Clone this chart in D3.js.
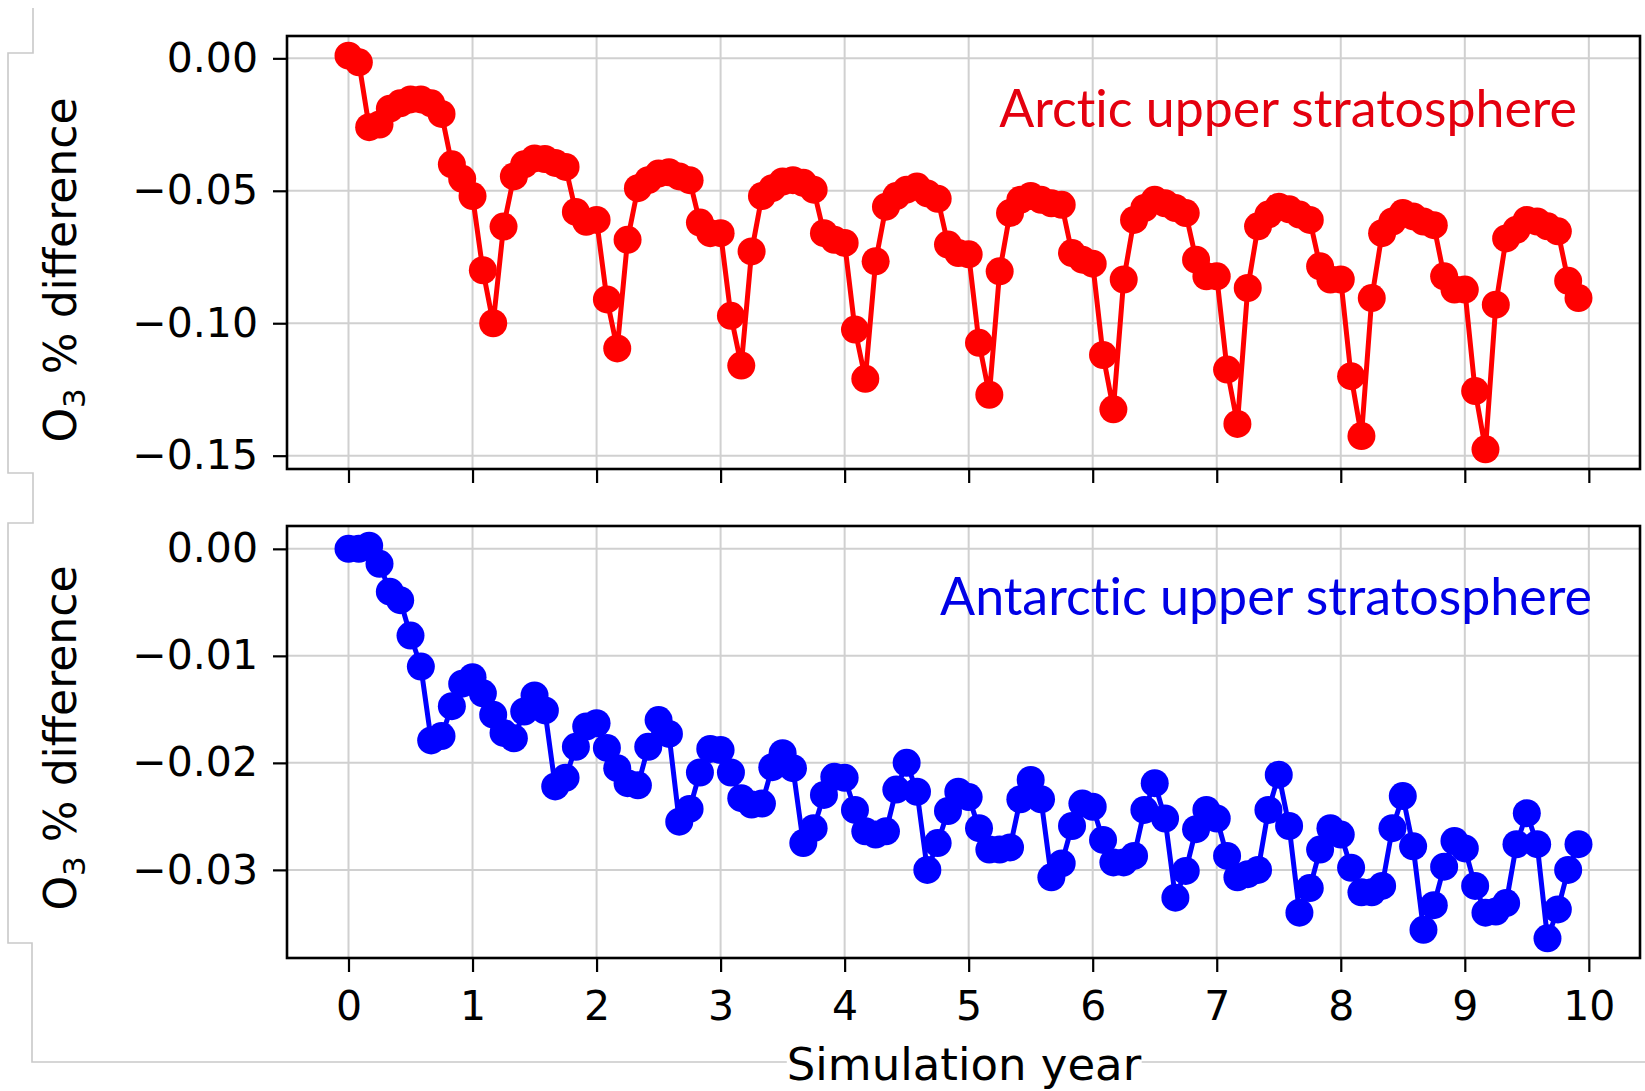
<!DOCTYPE html>
<html>
<head>
<meta charset="utf-8">
<script src="https://cdn.jsdelivr.net/npm/d3@7"></script>
<style>
  html, body { margin: 0; padding: 0; background: #ffffff; }
  svg { display: block; }
  .panel-label { font-variant-ligatures: none; font-feature-settings: "liga" 0, "clig" 0; }
</style>
</head>
<body>
<svg id="chart" width="1645" height="1091"></svg>
<script>
// ---------------- DATA ----------------
// monthly samples, simulation year = month index / 12
const simulationYear = d3.range(120).map(i => i / 12);

const arcticO3 = [
  0.0010, -0.0015, -0.0260, -0.0250, -0.0190, -0.0170, -0.0155, -0.0155, -0.0170, -0.0210, -0.0400, -0.0455,
  -0.0520, -0.0800, -0.1000, -0.0635, -0.0446, -0.0400, -0.0378, -0.0380, -0.0395, -0.0410, -0.0580, -0.0617,
  -0.0610, -0.0910, -0.1095, -0.0685, -0.0490, -0.0460, -0.0435, -0.0430, -0.0446, -0.0460, -0.0620, -0.0660,
  -0.0660, -0.0972, -0.1160, -0.0729, -0.0520, -0.0490, -0.0465, -0.0460, -0.0470, -0.0496, -0.0660, -0.0685,
  -0.0697, -0.1024, -0.1210, -0.0766, -0.0560, -0.0520, -0.0496, -0.0484, -0.0510, -0.0530, -0.0703, -0.0735,
  -0.0740, -0.1074, -0.1270, -0.0804, -0.0584, -0.0534, -0.0520, -0.0534, -0.0547, -0.0553, -0.0735, -0.0760,
  -0.0775, -0.1120, -0.1325, -0.0835, -0.0610, -0.0565, -0.0534, -0.0547, -0.0565, -0.0584, -0.0760, -0.0823,
  -0.0823, -0.1175, -0.1380, -0.0867, -0.0634, -0.0590, -0.0560, -0.0570, -0.0590, -0.0610, -0.0785, -0.0835,
  -0.0835, -0.1200, -0.1426, -0.0905, -0.0660, -0.0616, -0.0584, -0.0597, -0.0616, -0.0630, -0.0823, -0.0873,
  -0.0873, -0.1256, -0.1476, -0.0930, -0.0680, -0.0647, -0.0610, -0.0616, -0.0634, -0.0653, -0.0840, -0.0905
];

const antarcticO3 = [
  0.0000, 0.0000, 0.0003, -0.0014, -0.0040, -0.0048, -0.0081, -0.0110, -0.0179, -0.0175, -0.0147, -0.0126,
  -0.0120, -0.0135, -0.0155, -0.0172, -0.0177, -0.0152, -0.0137, -0.0151, -0.0222, -0.0214, -0.0185, -0.0166,
  -0.0163, -0.0186, -0.0205, -0.0219, -0.0221, -0.0185, -0.0160, -0.0173, -0.0255, -0.0243, -0.0209, -0.0187,
  -0.0188, -0.0209, -0.0233, -0.0239, -0.0238, -0.0204, -0.0191, -0.0205, -0.0275, -0.0261, -0.0230, -0.0213,
  -0.0214, -0.0244, -0.0264, -0.0267, -0.0264, -0.0225, -0.0200, -0.0227, -0.0300, -0.0275, -0.0245, -0.0227,
  -0.0232, -0.0261, -0.0281, -0.0281, -0.0279, -0.0234, -0.0216, -0.0234, -0.0307, -0.0294, -0.0259, -0.0238,
  -0.0241, -0.0272, -0.0293, -0.0293, -0.0287, -0.0244, -0.0219, -0.0252, -0.0326, -0.0301, -0.0262, -0.0244,
  -0.0252, -0.0287, -0.0307, -0.0304, -0.0300, -0.0244, -0.0211, -0.0259, -0.0340, -0.0317, -0.0281, -0.0261,
  -0.0267, -0.0298, -0.0321, -0.0321, -0.0315, -0.0261, -0.0231, -0.0278, -0.0356, -0.0333, -0.0297, -0.0273,
  -0.0280, -0.0315, -0.0340, -0.0339, -0.0331, -0.0276, -0.0247, -0.0276, -0.0364, -0.0337, -0.0300, -0.0276
];

const xTickValues = [0, 1, 2, 3, 4, 5, 6, 7, 8, 9, 10];
const arcticYTicks = [0.00, -0.05, -0.10, -0.15];
const antarcticYTicks = [0.00, -0.01, -0.02, -0.03];
const panelLabels = ["Arctic upper stratosphere", "Antarctic upper stratosphere"];
const xAxisTitle = "Simulation year";
const yAxisTitle = ["O", "3", " % difference"];

// ---------------- LAYOUT ----------------
const svg = d3.select("#chart");
const plotLeft = 287, plotRight = 1640;
const panels = [
  { top: 36,  bottom: 469, values: arcticO3,    ticks: arcticYTicks,    color: "#ff0000", textColor: "#e4000f",
    label: panelLabels[0], labelRight: 1577, labelBase: 126.5, labelWidth: 578, yTitleCenter: 270, showX: false },
  { top: 526, bottom: 958, values: antarcticO3, ticks: antarcticYTicks, color: "#0000ff", textColor: "#0000e6",
    label: panelLabels[1], labelRight: 1592, labelBase: 615, labelWidth: 652, yTitleCenter: 738, showX: true }
];

// decorative grey frame lines from the original figure
svg.append("path")
  .attr("d", "M33,8 V53 H8 V473 H33 V523 H8 V943 H32 V1062 H1645")
  .attr("fill", "none").attr("stroke", "#c9c9c9").attr("stroke-width", 1.6);

function paddedExtent(arr) {
  const lo = d3.min(arr), hi = d3.max(arr), pad = (hi - lo) * 0.05;
  return [lo - pad, hi + pad];
}

const xExt = paddedExtent(simulationYear);
const x = d3.scaleLinear().domain(xExt).range([plotLeft, plotRight]);

const fmt = d3.format(".2f");
const tickFont = "'DejaVu Sans', sans-serif";

panels.forEach(p => {
  const y = d3.scaleLinear().domain(paddedExtent(p.values)).range([p.bottom, p.top]);
  const g = svg.append("g");

  // grid
  g.append("g").selectAll("line").data(xTickValues).join("line")
    .attr("x1", d => x(d)).attr("x2", d => x(d))
    .attr("y1", p.top).attr("y2", p.bottom)
    .attr("stroke", "#d0d0d0").attr("stroke-width", 2);
  g.append("g").selectAll("line").data(p.ticks).join("line")
    .attr("x1", plotLeft).attr("x2", plotRight)
    .attr("y1", d => y(d)).attr("y2", d => y(d))
    .attr("stroke", "#d0d0d0").attr("stroke-width", 2);

  // series line + markers
  const pts = simulationYear.map((t, i) => [t, p.values[i]]);
  g.append("path")
    .datum(pts)
    .attr("d", d3.line().x(d => x(d[0])).y(d => y(d[1])))
    .attr("fill", "none").attr("stroke", p.color).attr("stroke-width", 5)
    .attr("stroke-linejoin", "round");
  g.append("g").selectAll("circle").data(pts).join("circle")
    .attr("cx", d => x(d[0])).attr("cy", d => y(d[1])).attr("r", 14)
    .attr("fill", p.color);

  // frame
  g.append("rect")
    .attr("x", plotLeft).attr("y", p.top)
    .attr("width", plotRight - plotLeft).attr("height", p.bottom - p.top)
    .attr("fill", "none").attr("stroke", "#000").attr("stroke-width", 2.6);

  // y axis
  const yAxis = d3.axisLeft(y).tickValues(p.ticks).tickSize(14).tickPadding(15).tickFormat(fmt);
  const ya = g.append("g").attr("transform", `translate(${plotLeft},0)`).call(yAxis);
  ya.select(".domain").remove();
  ya.selectAll(".tick line").attr("stroke", "#000").attr("stroke-width", 2.2);
  ya.selectAll(".tick text").attr("font-family", tickFont).attr("font-size", 41).attr("fill", "#000");

  // x axis
  const xAxis = d3.axisBottom(x).tickValues(xTickValues).tickSize(14).tickPadding(19)
    .tickFormat(p.showX ? d3.format("d") : () => "");
  const xa = g.append("g").attr("transform", `translate(0,${p.bottom})`).call(xAxis);
  xa.select(".domain").remove();
  xa.selectAll(".tick line").attr("stroke", "#000").attr("stroke-width", 2.2);
  xa.selectAll(".tick text").attr("font-family", tickFont).attr("font-size", 41).attr("fill", "#000");

  // panel annotation
  const lab = g.append("text")
    .attr("class", "panel-label")
    .attr("x", p.labelRight).attr("y", p.labelBase)
    .attr("text-anchor", "end")
    .attr("font-family", "Lato, 'Open Sans', sans-serif")
    .attr("font-size", 46)
    .attr("fill", p.textColor)
    .text(p.label);
  const w = lab.node().getComputedTextLength();
  lab.attr("font-size", 46 * p.labelWidth / w);

  // y axis title
  const yt = g.append("text")
    .attr("transform", `translate(76,${p.yTitleCenter}) rotate(-90)`)
    .attr("text-anchor", "middle")
    .attr("font-family", tickFont).attr("font-size", 44).attr("fill", "#000");
  yt.append("tspan").text(yAxisTitle[0]);
  yt.append("tspan").attr("font-size", 31).attr("dy", 9).text(yAxisTitle[1]);
  yt.append("tspan").attr("dy", -9).text(yAxisTitle[2]);
});

// x axis title (with white backing over the grey frame line)
const xtGroup = svg.append("g");
const xtBack = xtGroup.append("rect").attr("fill", "#fff");
const xt = xtGroup.append("text")
  .attr("x", 964).attr("y", 1080)
  .attr("text-anchor", "middle")
  .attr("font-family", tickFont).attr("font-size", 45).attr("fill", "#000")
  .text(xAxisTitle);
const bb = xt.node().getBBox();
xtBack.attr("x", bb.x).attr("y", bb.y).attr("width", bb.width).attr("height", bb.height);
</script>
</body>
</html>
